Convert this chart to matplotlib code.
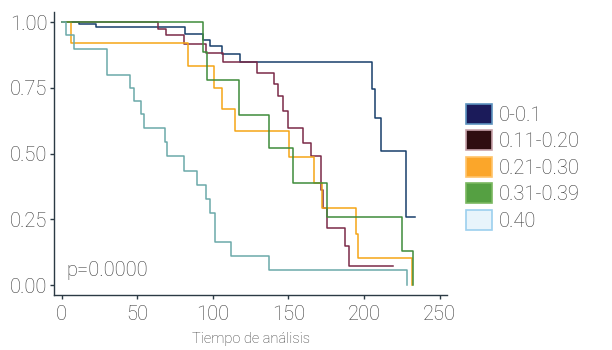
import matplotlib
matplotlib.use("Agg")
import matplotlib.pyplot as plt
from matplotlib.patches import Patch

plt.rcParams['font.family'] = ['Roboto', 'DejaVu Sans']
plt.rcParams['font.weight'] = 'light'

# Kaplan-Meier step curves (time, survival)
groups = ['0-0.1', '0.11-0.20', '0.21-0.30', '0.31-0.39', '0.40']

t_01 = [0, 11.8, 22.6, 81.7, 93.3, 98.1, 106.3, 118.2, 205.3, 207.1, 211.4, 227.5, 233.4]
s_01 = [1, 0.992, 0.981, 0.954, 0.933, 0.91, 0.879, 0.85, 0.745, 0.637, 0.511, 0.258, 0.258]

t_020 = [0, 64.0, 68.9, 81.2, 95.3, 107.0, 129.0, 140.5, 143.3, 146.4, 149.7, 159.8,
         165.1, 171.3, 173.0, 175.7, 187.4, 190.0, 219.3]
s_020 = [1, 0.973, 0.952, 0.918, 0.883, 0.849, 0.808, 0.766, 0.718, 0.661, 0.599, 0.542,
         0.491, 0.362, 0.292, 0.216, 0.147, 0.071, 0.071]

t_030 = [0, 6.3, 83.8, 101.0, 106.3, 114.9, 150.4, 167.0, 172.2, 194.4, 196.2, 231.8]
s_030 = [1, 0.92, 0.832, 0.75, 0.67, 0.586, 0.488, 0.389, 0.292, 0.194, 0.103, 0.0]

t_039 = [0, 93.3, 96.2, 117.3, 137.1, 153.2, 175.5, 225.2, 232.5]
s_039 = [1, 0.888, 0.779, 0.647, 0.52, 0.389, 0.26, 0.128, 0.0]

t_040 = [0, 3.2, 8.3, 30.3, 45.0, 48.0, 52.5, 54.5, 68.2, 70.0, 81.2, 89.5, 95.3, 98.1,
         101.3, 112.2, 137.1, 228.2]
s_040 = [1, 0.952, 0.897, 0.80, 0.749, 0.70, 0.65, 0.599, 0.545, 0.49, 0.435, 0.382,
         0.327, 0.275, 0.162, 0.109, 0.056, 0.0]

times = [t_01, t_020, t_030, t_039, t_040]
survs = [s_01, s_020, s_030, s_039, s_040]

line_colors = ['#173e6b', '#7a2a48', '#f5a516', '#3f8c3a', '#6ba9a9']
patch_faces = ['#1b1b5a', '#2e0d10', '#fba62a', '#55a042', '#e8f4fb']
patch_edges = ['#5d93bf', '#c7a3aa', '#ffc46a', '#7ab860', '#9ccfee']

xticks = [0, 50, 100, 150, 200, 250]
yticks = [0.0, 0.25, 0.5, 0.75, 1.0]
ytick_labels = ['0.00', '0.25', '0.50', '0.75', '1.00']

fig = plt.figure(figsize=(6.12, 3.5), dpi=100)
ax = fig.add_axes([54.3 / 612, 1 - 295 / 350, (447 - 54.3) / 612, (295 - 12) / 350])

for t, s, c in zip(times, survs, line_colors):
    ax.step(t, s, where='post', color=c, lw=1.1)

ax.set_xlim(-4.8, 254.8)
ax.set_ylim(-0.038, 1.039)
ax.set_xticks(xticks)
ax.set_yticks(yticks)
ax.set_yticklabels(ytick_labels)

axis_col = '#2b3a44'
txt_col = '#383838'
for side in ['top', 'right']:
    ax.spines[side].set_visible(False)
for side in ['left', 'bottom']:
    ax.spines[side].set_color(axis_col)
    ax.spines[side].set_linewidth(1.0)
ax.tick_params(axis='both', colors=axis_col, length=3, width=1.0,
               labelsize=14.5, labelcolor=txt_col)
ax.tick_params(axis='y', pad=2)
ax.tick_params(axis='x', pad=4)

ax.text(3.5, 0.057, 'p=0.0000', fontsize=14.5, color=txt_col, va='center', ha='left')

ax.set_xlabel('Tiempo de análisis', fontsize=10.5, color=txt_col, fontweight='light')
ax.xaxis.set_label_coords(0.5, -0.13)

handles = [Patch(facecolor=f, edgecolor=e, linewidth=1.2, label=g)
           for f, e, g in zip(patch_faces, patch_edges, groups)]
fig.legend(handles=handles, loc='upper left', bbox_to_anchor=(466 / 612, 1 - 104 / 350),
           frameon=False, fontsize=14.5, labelcolor=txt_col,
           handlelength=1.3, handleheight=1.15, handletextpad=0.35,
           labelspacing=0.28, borderpad=0, borderaxespad=0)

fig.savefig('out.png', dpi=100)
